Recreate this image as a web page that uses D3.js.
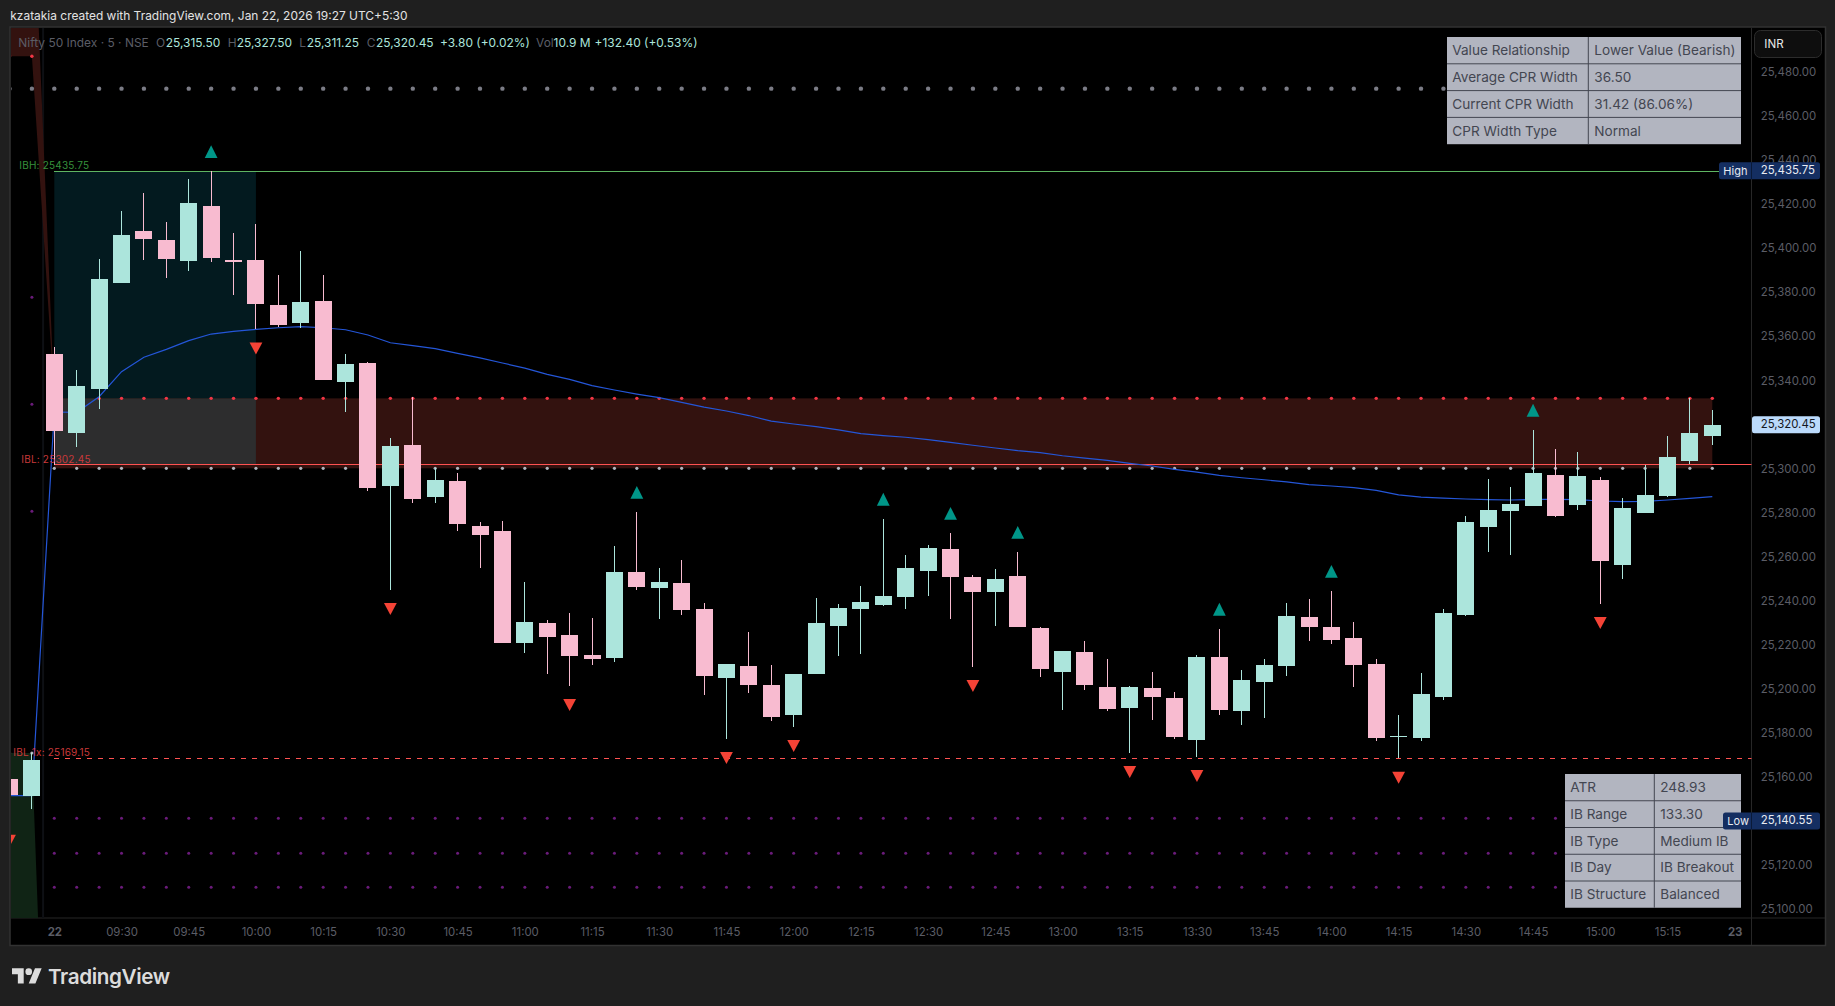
<!DOCTYPE html>
<html>
<head>
<meta charset="utf-8">
<script src="https://cdn.jsdelivr.net/npm/d3@7"></script>
<style>
html, body { margin: 0; padding: 0; background: #1f1f1f; }
svg { display: block; font-family: Inter, "Noto Sans", sans-serif; }
</style>
</head>
<body>
<svg id="chart" width="1835" height="1006"></svg>
<script>
// bars run from index -2 (prior day) to 74 (15:25)
const firstBar = -2
const barOpen = [25159.85,25152.1,25352.8,25317.05,25337.05,25385.15,25408.65,25404.55,25395.15,25420,25395.45,25395.45,25375.05,25367,25376.85,25340.2,25348.7,25293,25311.45,25288,25295.15,25274.7,25272.4,25221.7,25230.65,25225.2,25216.15,25214.9,25253.8,25246.7,25248.8,25237,25205.85,25211.15,25202.5,25189,25207.65,25229.45,25237.15,25239,25242.6,25254.4,25264.25,25251.55,25244.85,25252,25228.4,25208.55,25217.5,25201.6,25192.2,25201.15,25196.6,25177.7,25215.2,25190.85,25204,25211.3,25233.4,25228.85,25223.85,25212.05,25178.9,25178.6,25197.2,25234.3,25274.4,25281.65,25283.9,25297.85,25284.35,25295.6,25257.1,25280.75,25288.45,25304.35,25315.5]
const barHigh = [25159.85,25171.8,25356,25345.5,25395.9,25417.7,25425.9,25412.7,25432.25,25435.75,25407.7,25411.8,25388.65,25399.55,25388.65,25352.8,25349.15,25314.65,25333.1,25301,25298.75,25276.5,25276.95,25249.3,25232,25235.2,25232.9,25265.6,25281.05,25255.65,25259.25,25239.75,25212.05,25226.6,25211.6,25207.5,25242,25239.3,25247.45,25277.9,25261.5,25266.05,25271.5,25252.45,25255.2,25262.9,25228.85,25217.95,25222.5,25214.3,25202.05,25208.4,25199.35,25216.15,25227.95,25209.3,25214.3,25239.75,25241.55,25245.2,25231.1,25214.3,25188.9,25207.95,25237,25279.25,25296.05,25292.4,25318.3,25309.65,25308.3,25296.95,25287.4,25302.4,25315.55,25332.8,25327.5]
const barLow = [25140.55,25146.35,25302.45,25310.7,25327.95,25385.15,25395.6,25387.4,25390.6,25394.7,25379.55,25364,25365.05,25364.6,25341.1,25326.6,25290.7,25245.8,25285.3,25285.3,25272.55,25255.75,25221.7,25217.2,25207.65,25202.2,25211.7,25213.1,25245.8,25232.6,25234.4,25198.1,25178.15,25199,25186.3,25183.6,25207.65,25215.8,25216.7,25238.5,25237.15,25243.05,25232.6,25210.8,25229.45,25229,25206.3,25191.3,25200.4,25190.85,25171.8,25186.75,25178.15,25169.95,25189,25184.5,25187.65,25206.75,25222.6,25221.25,25201.75,25177.2,25169.15,25177.2,25195.85,25233.85,25263.05,25261.65,25283.9,25278.9,25282.1,25239.4,25250.75,25280.75,25288,25303,25311.25]
const barClose = [25152.55,25168.45,25318,25338.25,25386.85,25406.8,25405,25396.05,25421.35,25396.5,25394.55,25375.6,25366.1,25376.4,25341.1,25348.25,25292.1,25311,25287.1,25295.6,25275.75,25270.75,25221.7,25231.1,25224.45,25215.8,25214.45,25253.8,25247.15,25249.3,25236.7,25206.75,25212.05,25202.65,25188.1,25207.5,25230.65,25237.45,25240.2,25242.9,25255.65,25264.7,25251.7,25244.85,25250.65,25229,25209.9,25217.95,25202.65,25191.75,25201.6,25197.2,25179.05,25215.2,25191.3,25204.8,25211.6,25233.85,25229,25223.1,25211.7,25178.6,25179.35,25198.45,25235.2,25276.5,25281.95,25284.7,25298.75,25279.4,25297.4,25258.95,25282.85,25288.75,25306,25316.9,25320.45]
const vwap = [25152.25,25152.25,25326.45,25326.3,25333.4,25344.75,25351.3,25354.9,25358.85,25361.85,25363.1,25364,25364.7,25365.2,25364.7,25363.8,25361.4,25357.9,25356.55,25355.2,25353.1,25351,25348.7,25346.4,25343.55,25341.3,25338.4,25336.45,25334.6,25332.95,25330.85,25328.7,25326.9,25324.85,25322.35,25321,25319.8,25318.3,25316.6,25315.7,25315,25313.9,25312.7,25311.35,25310.1,25308.9,25308,25306.6,25305.55,25304.5,25303.15,25301.95,25300.45,25299.2,25297.7,25296.6,25295.7,25294.7,25293.45,25292.85,25292.1,25290.9,25288.8,25287.85,25287.4,25286.95,25286.65,25286.5,25286.8,25286.8,25286.65,25286.05,25285.75,25285.9,25286.5,25287.25,25288]

const pivotHighs = [7, 26, 37, 40, 43, 52, 57, 66]
const pivotLows = [-2, 9, 15, 23, 30, 33, 41, 48, 51, 60, 69]

const ibHigh = 25435.75
const ibLow = 25302.45
const ibLow1x = 25169.15
const ibEndBar = 9
const lastBar = 74
const dayHigh = 25435.75
const dayLow = 25140.55
const lastPrice = 25320.45

// cpr levels, prior day then today
const cprTop = [25487.95, 25332.65]
const cprBottom = [25171.65, 25300.9]
const resistance = [25473.25, 25473.25]
const supports = [[25378.55, 25329.95, 25281.4], [25142, 25126.1, 25110.65]]
const priorRedUpper = 25574.8
const priorGreenLower = 24873
const greenApex = 24899

const yTicks = d3.range(25100, 25481, 20)
const timeTicks = d3.range(0, 76, 3)
const timeLabels = ['22','09:30','09:45','10:00','10:15','10:30','10:45','11:00','11:15','11:30','11:45','12:00','12:15','12:30','12:45','13:00','13:15','13:30','13:45','14:00','14:15','14:30','14:45','15:00','15:15','23']

const cprTable = [['Value Relationship','Lower Value (Bearish)'],['Average CPR Width','36.50'],['Current CPR Width','31.42 (86.06%)'],['CPR Width Type','Normal']]
const ibTable = [['ATR','248.93'],['IB Range','133.30'],['IB Type','Medium IB'],['IB Day','IB Breakout'],['IB Structure','Balanced']]

const MINT = '#ace5dc'
const PINK = '#f8bbd0'
const UP = '#009688'
const DOWN = '#f44336'
const RED = '#ff5252'
const AXIS = '#5b5d66'
const plotRight = 1751.5
const plotBottom = 918

const x = d3.scaleLinear().domain([0, 74]).range([54.3, 1712.3])
const y = d3.scaleLinear().domain([25480, 25100]).range([73.8, 910.8])
const bars = barOpen.map((o, k) => ({ i: k + firstBar, o, h: barHigh[k], l: barLow[k], c: barClose[k] }))

const svg = d3.select('#chart')

// frame
svg.append('rect').attr('x', 10).attr('y', 27).attr('width', 1815.5).attr('height', 918.5)
    .attr('fill', '#000').attr('stroke', '#323232').attr('stroke-width', 1.5)
svg.append('line').attr('x1', plotRight).attr('x2', plotRight).attr('y1', 28).attr('y2', 945).attr('stroke', '#272727')
svg.append('line').attr('x1', 11).attr('x2', 1825).attr('y1', plotBottom).attr('y2', plotBottom).attr('stroke', '#272727')

svg.append('text').attr('x', 10.3).attr('y', 20).attr('fill', '#e3e3e3').attr('font-size', 11.95)
    .text('kzatakia created with TradingView.com, Jan 22, 2026 19:27 UTC+5:30')

svg.append('clipPath').attr('id', 'plot').append('rect')
    .attr('x', 11).attr('y', 28).attr('width', plotRight - 11).attr('height', plotBottom - 28)
const plot = svg.append('g').attr('clip-path', 'url(#plot)')

// session break
plot.append('line').attr('x1', x(-0.5)).attr('x2', x(-0.5)).attr('y1', 28).attr('y2', plotBottom)
    .attr('stroke', '#0e1014').attr('stroke-width', 2)

// prior day bands running into today's open
const priorArea = d3.area().x(d => x(d[0])).y0(d => y(d[1])).y1(d => y(d[2]))
plot.append('path').attr('fill', '#33120f')
    .attr('d', priorArea([[-2, cprTop[0], priorRedUpper], [-1, cprTop[0], priorRedUpper], [0, cprTop[1], cprTop[1]]]))
plot.append('path').attr('fill', '#102415')
    .attr('d', priorArea([[-2, cprBottom[0], priorGreenLower], [-1, cprBottom[0], priorGreenLower], [0, greenApex, greenApex]]))

// today's cpr band and initial balance box
const rectBetween = (x0, x1, v0, v1, fill) => plot.append('rect')
    .attr('x', x(x0)).attr('width', x(x1) - x(x0))
    .attr('y', y(v0)).attr('height', y(v1) - y(v0)).attr('fill', fill)
rectBetween(0, lastBar, cprTop[1], cprBottom[1], '#33120f')
rectBetween(0, ibEndBar, ibHigh, cprTop[1], '#031a1f')
rectBetween(0, ibEndBar, cprTop[1], ibLow, '#2d2d2e')

// ib levels
const level = (v, color, dash) => plot.append('line')
    .attr('x1', x(0)).attr('x2', plotRight).attr('y1', y(v)).attr('y2', y(v))
    .attr('stroke', color).attr('stroke-width', 1).attr('stroke-dasharray', dash)
    .attr('shape-rendering', 'crispEdges')
level(ibHigh, '#5fb562', null)
level(ibLow, RED, null)
level(ibLow1x, RED, '5 6')

// pivot dots
const dotRow = (from, to, v, color, r) => plot.append('g').selectAll('circle')
    .data(d3.range(from, to + 1)).join('circle')
    .attr('cx', d => x(d)).attr('cy', y(v)).attr('r', r).attr('fill', color)
dotRow(-2, lastBar, resistance[0], '#7b7c86', 2.2)
dotRow(-2, -1, cprTop[0], '#f23645', 1.7)
dotRow(-2, -1, cprBottom[0], '#b2b5be', 1.6)
dotRow(0, lastBar, cprTop[1], '#f23645', 1.7)
dotRow(0, lastBar, cprBottom[1], '#b2b5be', 1.6)
supports[0].forEach(v => dotRow(-2, -1, v, '#6a1b7a', 1.5))
supports[1].forEach(v => dotRow(0, lastBar, v, '#6a1b7a', 1.5))

// vwap
plot.append('path').attr('fill', 'none').attr('stroke', '#2456d8').attr('stroke-width', 1.2)
    .attr('d', d3.line().x((d, k) => x(k + firstBar)).y(d => y(d))(vwap))

// candles
const candle = plot.append('g').selectAll('g').data(bars).join('g')
    .attr('fill', d => d.c >= d.o ? MINT : PINK)
candle.append('rect').attr('shape-rendering', 'crispEdges')
    .attr('x', d => x(d.i) - 0.5).attr('width', 1)
    .attr('y', d => y(d.h)).attr('height', d => y(d.l) - y(d.h))
candle.append('rect').attr('shape-rendering', 'crispEdges')
    .attr('x', d => x(d.i) - 8.5).attr('width', 17)
    .attr('y', d => y(Math.max(d.o, d.c)))
    .attr('height', d => Math.max(1, y(Math.min(d.o, d.c)) - y(Math.max(d.o, d.c))))

// pivot markers
plot.append('g').selectAll('path').data(pivotHighs).join('path').attr('fill', UP)
    .attr('d', i => {
        const b = bars[i - firstBar]
        const t = y(b.h) - 13.3
        return `M${x(i) - 6.4},${t}L${x(i) + 6.4},${t}L${x(i)},${t - 12.8}Z`
    })
plot.append('g').selectAll('path').data(pivotLows).join('path').attr('fill', DOWN)
    .attr('d', i => {
        const b = bars[i - firstBar]
        const t = y(b.l) + 13.3
        return `M${x(i) - 6.4},${t}L${x(i) + 6.4},${t}L${x(i)},${t + 12}Z`
    })

// level labels
const levelLabel = (txt, lx, v, color, dy) => svg.append('text').attr('x', lx).attr('y', y(v) + dy)
    .attr('fill', color).attr('font-size', 10).attr('letter-spacing', 0.2).text(txt)
levelLabel('IBH: ' + ibHigh.toFixed(2), 19.3, ibHigh, '#37913c', -2.2)
levelLabel('IBL: ' + ibLow.toFixed(2), 21.3, ibLow, '#c9393a', -2)
levelLabel('IBL 1x: ' + ibLow1x.toFixed(2), 13.3, ibLow1x, '#c9393a', -2.4)

// ohlc legend
const legend = [
    [18.3, 'Nifty 50 Index · 5 · NSE', AXIS], [156, 'O', AXIS], [165.7, '25,315.50', MINT],
    [227.7, 'H', AXIS], [236.7, '25,327.50', MINT], [299.3, 'L', AXIS], [306.7, '25,311.25', MINT],
    [366.7, 'C', AXIS], [376, '25,320.45', MINT], [440, '+3.80 (+0.02%)', MINT],
    [536, 'Vol', AXIS], [553.6, '10.9 M', MINT], [594.6, '+132.40 (+0.53%)', MINT]
]
svg.append('g').selectAll('text').data(legend).join('text')
    .attr('x', d => d[0]).attr('y', 47).attr('font-size', 11.95).attr('fill', d => d[2]).text(d => d[1])

// axes
const yAxis = svg.append('g').attr('transform', 'translate(1760.7,0)')
    .call(d3.axisRight(y).tickValues(yTicks).tickFormat(d3.format(',.2f')).tickSize(0).tickPadding(0))
yAxis.select('.domain').remove()
yAxis.selectAll('text').attr('fill', AXIS).attr('font-size', 11.4).attr('font-family', 'Inter').attr('y', -1.8)

const xAxis = svg.append('g').attr('transform', `translate(0,${plotBottom + 10})`)
    .call(d3.axisBottom(x).tickValues(timeTicks).tickFormat((d, k) => timeLabels[k]).tickSize(0).tickPadding(0))
xAxis.select('.domain').remove()
xAxis.selectAll('text').attr('fill', AXIS).attr('font-size', 11.4).attr('font-family', 'Inter')
    .attr('font-weight', (d, k) => k === 0 || k === timeLabels.length - 1 ? 700 : 400)

// info tables
function infoTable(rows, tx, ty, colX, tw, rowH) {
    const g = svg.append('g')
    g.append('rect').attr('x', tx).attr('y', ty).attr('width', tw).attr('height', rowH * rows.length).attr('fill', '#b2b5c0')
    g.append('line').attr('x1', colX).attr('x2', colX).attr('y1', ty).attr('y2', ty + rowH * rows.length).attr('stroke', '#434651')
    rows.forEach((r, k) => {
        const base = ty + rowH * k + rowH / 2 + 4.8
        if (k > 0) g.append('line').attr('x1', tx).attr('x2', tx + tw).attr('y1', ty + rowH * k).attr('y2', ty + rowH * k).attr('stroke', '#434651')
        g.append('text').attr('x', tx + 5.3).attr('y', base).attr('font-size', 13.6).attr('fill', '#434651').text(r[0])
        g.append('text').attr('x', colX + 6).attr('y', base).attr('font-size', 13.6).attr('fill', '#434651').text(r[1])
    })
}
infoTable(cprTable, 1447, 37, 1588.3, 294, 26.8)
infoTable(ibTable, 1565, 774, 1654.3, 176, 26.75)

// price pills
function pill(px, pw, v, fill, textFill, name) {
    const c = y(v) - 0.5
    svg.append('rect').attr('x', px).attr('y', c - 8.5).attr('width', pw).attr('height', 17).attr('rx', 2.5).attr('fill', fill)
    svg.append('text').attr('x', 1760.7).attr('y', c + 3).attr('font-size', 11.4).attr('fill', textFill).text(d3.format(',.2f')(v))
    if (name) {
        svg.append('text').attr('x', px + 4.3).attr('y', c + 4).attr('font-size', 11).attr('fill', textFill).text(name)
        svg.append('line').attr('x1', plotRight).attr('x2', plotRight).attr('y1', c - 8.5).attr('y2', c + 8.5).attr('stroke', '#0a1a38')
    }
}
pill(1719, 101, dayHigh, '#142e61', '#e8ebf2', 'High')
pill(1723, 97, dayLow, '#142e61', '#e8ebf2', 'Low')
pill(1752, 68, lastPrice, '#bbdafb', '#131722')

// currency button
svg.append('rect').attr('x', 1754.5).attr('y', 30.5).attr('width', 67).attr('height', 27).attr('rx', 6)
    .attr('fill', '#0e0e0e').attr('stroke', '#2c2c2c')
svg.append('text').attr('x', 1764.3).attr('y', 48).attr('font-size', 11.6).attr('fill', '#e8e8e8').text('INR')

// footer logo
const logo = svg.append('g').attr('transform', 'translate(12,965) scale(0.836)').attr('fill', '#dcdcdc')
logo.append('path').attr('d', 'M14 22H7V11H0V4h14v18zM28 22h-8l7.5-18h8L28 22z')
logo.append('circle').attr('cx', 20).attr('cy', 8).attr('r', 4)
svg.append('text').attr('x', 48).attr('y', 984).attr('font-size', 20.7).attr('font-weight', 600)
    .attr('letter-spacing', -0.4).attr('fill', '#dcdcdc').text('TradingView')
</script>
</body>
</html>
